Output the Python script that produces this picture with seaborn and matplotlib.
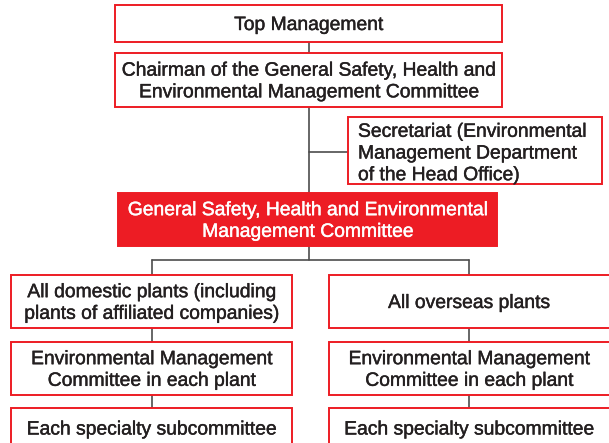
import matplotlib
matplotlib.use("Agg")
import matplotlib.pyplot as plt
import matplotlib.patheffects as pe
import seaborn as sns
from matplotlib.patches import Rectangle

# Box labels, top to bottom
top_labels = ["Top Management",
              "Chairman of the General Safety, Health and\nEnvironmental Management Committee"]
secretariat_label = "Secretariat (Environmental\nManagement Department\nof the Head Office)"
committee_label = "General Safety, Health and Environmental\nManagement Committee"
left_labels = ["All domestic plants (including\nplants of affiliated companies)",
               "Environmental Management\nCommittee in each plant",
               "Each specialty subcommittee"]
right_labels = ["All overseas plants",
                "Environmental Management\nCommittee in each plant",
                "Each specialty subcommittee"]

RED = "#ed1c24"
TEXT = "#231f20"
LINE = "#4d4d4d"

sns.set_style("white")
plt.rcParams["font.family"] = ["Liberation Sans", "DejaVu Sans"]

fig = plt.figure(figsize=(6.09, 4.43), dpi=100)
ax = fig.add_axes([0, 0, 1, 1])
ax.set_xlim(0, 609)
ax.set_ylim(443, 0)
ax.axis("off")


def box(x0, y0, x1, y1, label, filled=False, ha="center", tx=None, ty=None):
    ax.add_patch(Rectangle((x0, y0), x1 - x0, y1 - y0,
                           facecolor=RED if filled else "white",
                           edgecolor=RED, linewidth=1.4, zorder=2))
    if tx is None:
        tx = (x0 + x1) / 2
    if ty is None:
        ty = (y0 + y1) / 2
    col = "white" if filled else TEXT
    ax.text(tx, ty + 2, label, ha=ha, va="center", ma=ha,
            fontsize=13.9, color=col, linespacing=1.36, zorder=3,
            path_effects=[pe.withStroke(linewidth=0.3, foreground=col)])


def line(xs, ys):
    ax.plot(xs, ys, color=LINE, linewidth=1.2, zorder=1)


# connectors
line([309, 309], [42, 193])
line([309, 348], [152, 152])
line([309, 309], [246, 260])
line([152, 469], [260, 260])
line([152, 152], [260, 275])
line([469, 469], [260, 275])
line([152, 152], [328, 408])
line([469, 469], [328, 408])

# boxes
box(115, 5, 502, 42, top_labels[0])
box(115, 53, 502, 107, top_labels[1])
box(348, 117, 602, 184, secretariat_label, ha="left", tx=358, ty=152)
box(118, 193, 497, 246, committee_label, filled=True)

rows = [(275, 328), (342, 395), (408, 448)]
for (y0, y1), lab in zip(rows, left_labels):
    box(11, y0, 292, y1, lab)
for (y0, y1), lab in zip(rows, right_labels):
    box(329, y0, 620, y1, lab, tx=469)

fig.savefig("out.png", dpi=100)
